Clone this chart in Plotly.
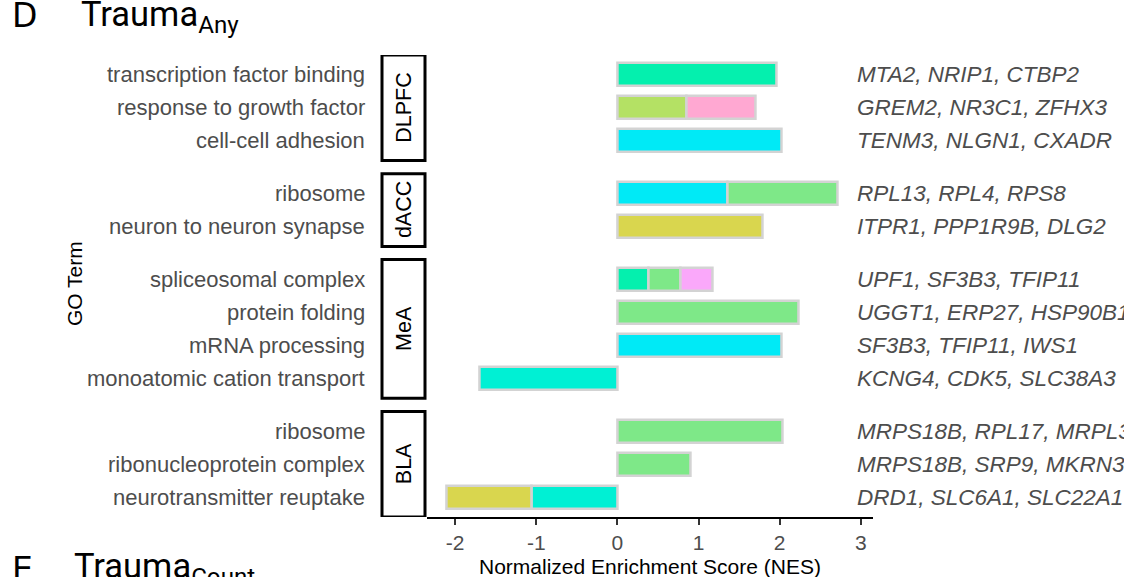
import plotly.graph_objects as go

# ---------------- data ----------------
terms = [
    "transcription factor binding", "response to growth factor", "cell-cell adhesion",
    "ribosome", "neuron to neuron synapse",
    "spliceosomal complex", "protein folding", "mRNA processing", "monoatomic cation transport",
    "ribosome", "ribonucleoprotein complex", "neurotransmitter reuptake",
]
regions = ["DLPFC", "DLPFC", "DLPFC", "dACC", "dACC",
           "MeA", "MeA", "MeA", "MeA", "BLA", "BLA", "BLA"]
region_order = ["DLPFC", "dACC", "MeA", "BLA"]
genes = [
    "MTA2, NRIP1, CTBP2", "GREM2, NR3C1, ZFHX3", "TENM3, NLGN1, CXADR",
    "RPL13, RPL4, RPS8", "ITPR1, PPP1R9B, DLG2",
    "UPF1, SF3B3, TFIP11", "UGGT1, ERP27, HSP90B1", "SF3B3, TFIP11, IWS1", "KCNG4, CDK5, SLC38A3",
    "MRPS18B, RPL17, MRPL3", "MRPS18B, SRP9, MKRN3", "DRD1, SLC6A1, SLC22A1",
]
# NES contributions per stacked segment (None = no segment)
seg1 = [1.96, 0.85, 2.02, 1.36, 1.79, 0.39, 2.24, 2.02, -1.70, 2.04, 0.90, -1.05]
seg2 = [None, 0.85, None, 1.36, None, 0.39, None, None, None, None, None, -1.05]
seg3 = [None, None, None, None, None, 0.40, None, None, None, None, None, None]

TEAL = "rgb(4,240,174)"
CYAN = "rgb(0,234,246)"
GREEN = "rgb(126,232,136)"
YGREEN = "rgb(180,225,100)"
PINK = "rgb(255,168,210)"
OLIVE = "rgb(217,214,78)"
VIOLET = "rgb(250,168,250)"
TURQ = "rgb(0,240,212)"

col1 = [TEAL, YGREEN, CYAN, CYAN, OLIVE, TEAL, GREEN, CYAN, TURQ, GREEN, GREEN, TURQ]
col2 = [None, PINK, None, GREEN, None, GREEN, None, None, None, None, None, OLIVE]
col3 = [None, None, None, None, None, VIOLET, None, None, None, None, None, None]

x_ticks = [-2, -1, 0, 1, 2, 3]

# ---------------- facet row positions ----------------
PAD = 0.6   # padding at each panel edge (row units)
GAP = 0.4   # gap between panels (row units)
panels = {}
start = 0.0
for reg in region_order:
    n = sum(1 for r in regions if r == reg)
    panels[reg] = (start, start + n - 1 + 2 * PAD)
    start = start + n - 1 + 2 * PAD + GAP
total = start - GAP
ypos = [0.0] * len(terms)
for reg in region_order:
    idx = [i for i, r in enumerate(regions) if r == reg]
    for k, i in enumerate(idx):
        ypos[i] = panels[reg][0] + PAD + k

FONT = "Liberation Sans, Arial, Helvetica, sans-serif"
HFONT = "Roboto, sans-serif"
GREY30 = "#4d4d4d"
W, H = 1124, 577
X0, X1 = 426.7, 873.0      # plot area in px
Y0, Y1 = 55.0, 517.0

fig = go.Figure()
for vals, cols in [(seg1, col1), (seg2, col2), (seg3, col3)]:
    fig.add_trace(go.Bar(
        y=ypos, x=vals, orientation="h", width=0.7,
        marker=dict(color=[c if c else "rgba(0,0,0,0)" for c in cols],
                    line=dict(color="rgb(211,211,211)", width=2.5)),
        showlegend=False, hoverinfo="skip",
    ))

annotations = []
for t, y in zip(terms, ypos):
    annotations.append(dict(x=367 / W, xref="paper", y=y, yref="y", text=t,
                            showarrow=False, xanchor="right", yanchor="middle",
                            font=dict(family=FONT, size=22, color=GREY30)))
for g, y in zip(genes, ypos):
    annotations.append(dict(x=2.93, xref="x", y=y, yref="y", text="<i>" + g + "</i>",
                            showarrow=False, xanchor="left", yanchor="middle",
                            font=dict(family=FONT, size=22.5, color=GREY30)))
shapes = []
for reg in region_order:
    a, b = panels[reg]
    shapes.append(dict(type="rect", xref="paper", yref="y",
                       x0=382 / W, x1=425 / W, y0=a, y1=b,
                       line=dict(color="black", width=3), fillcolor="white"))
    annotations.append(dict(x=404 / W, xref="paper", y=(a + b) / 2, yref="y",
                            text=reg, textangle=-90, showarrow=False,
                            xanchor="center", yanchor="middle",
                            font=dict(family=FONT, size=21.5, color="black")))
annotations.append(dict(x=74 / W, xref="paper", y=1 - 284 / H, yref="paper",
                        text="GO Term", textangle=-90, showarrow=False,
                        xanchor="center", yanchor="middle",
                        font=dict(family=FONT, size=21, color="black")))
annotations.append(dict(x=(X0 + X1) / 2 / W, xref="paper", y=1 - 566 / H, yref="paper",
                        text="Normalized Enrichment Score (NES)", showarrow=False,
                        xanchor="center", yanchor="middle",
                        font=dict(family=FONT, size=21, color="black")))
annotations.append(dict(x=10 / W, xref="paper", y=1 - 16 / H, yref="paper", text="D",
                        showarrow=False, xanchor="left", yanchor="middle",
                        font=dict(family="DejaVu Sans, sans-serif", size=33, color="black")))
annotations.append(dict(x=79 / W, xref="paper", y=1 - 17 / H, yref="paper",
                        text="Trauma<sub>Any</sub>",
                        showarrow=False, xanchor="left", yanchor="middle",
                        font=dict(family=HFONT, size=34.5, color="black")))
annotations.append(dict(x=10 / W, xref="paper", y=1 - 569 / H, yref="paper", text="E",
                        showarrow=False, xanchor="left", yanchor="middle",
                        font=dict(family="DejaVu Sans, sans-serif", size=33, color="black")))
annotations.append(dict(x=72 / W, xref="paper", y=1 - 568 / H, yref="paper",
                        text="Trauma<sub>Count</sub>",
                        showarrow=False, xanchor="left", yanchor="middle",
                        font=dict(family=HFONT, size=34.5, color="black")))

fig.update_layout(
    width=W, height=H, margin=dict(l=0, r=0, t=0, b=0),
    paper_bgcolor="white", plot_bgcolor="white",
    barmode="relative", bargap=0,
    annotations=annotations, shapes=shapes,
    xaxis=dict(domain=[X0 / W, X1 / W], range=[-2.35, 3.15],
               tickvals=x_ticks, ticktext=[str(v) for v in x_ticks],
               ticks="outside", ticklen=6, tickwidth=1.5, tickcolor="#333333",
               showline=True, linecolor="black", linewidth=2,
               showgrid=False, zeroline=False,
               tickfont=dict(family=FONT, size=21, color=GREY30)),
    yaxis=dict(domain=[1 - Y1 / H, 1 - Y0 / H], range=[total, 0],
               showticklabels=False, showgrid=False, zeroline=False,
               showline=False, ticks=""),
)

fig.write_html("out.html", config={"displayModeBar": False},
               post_script="document.body.style.margin='0';document.body.style.overflow='hidden';")
